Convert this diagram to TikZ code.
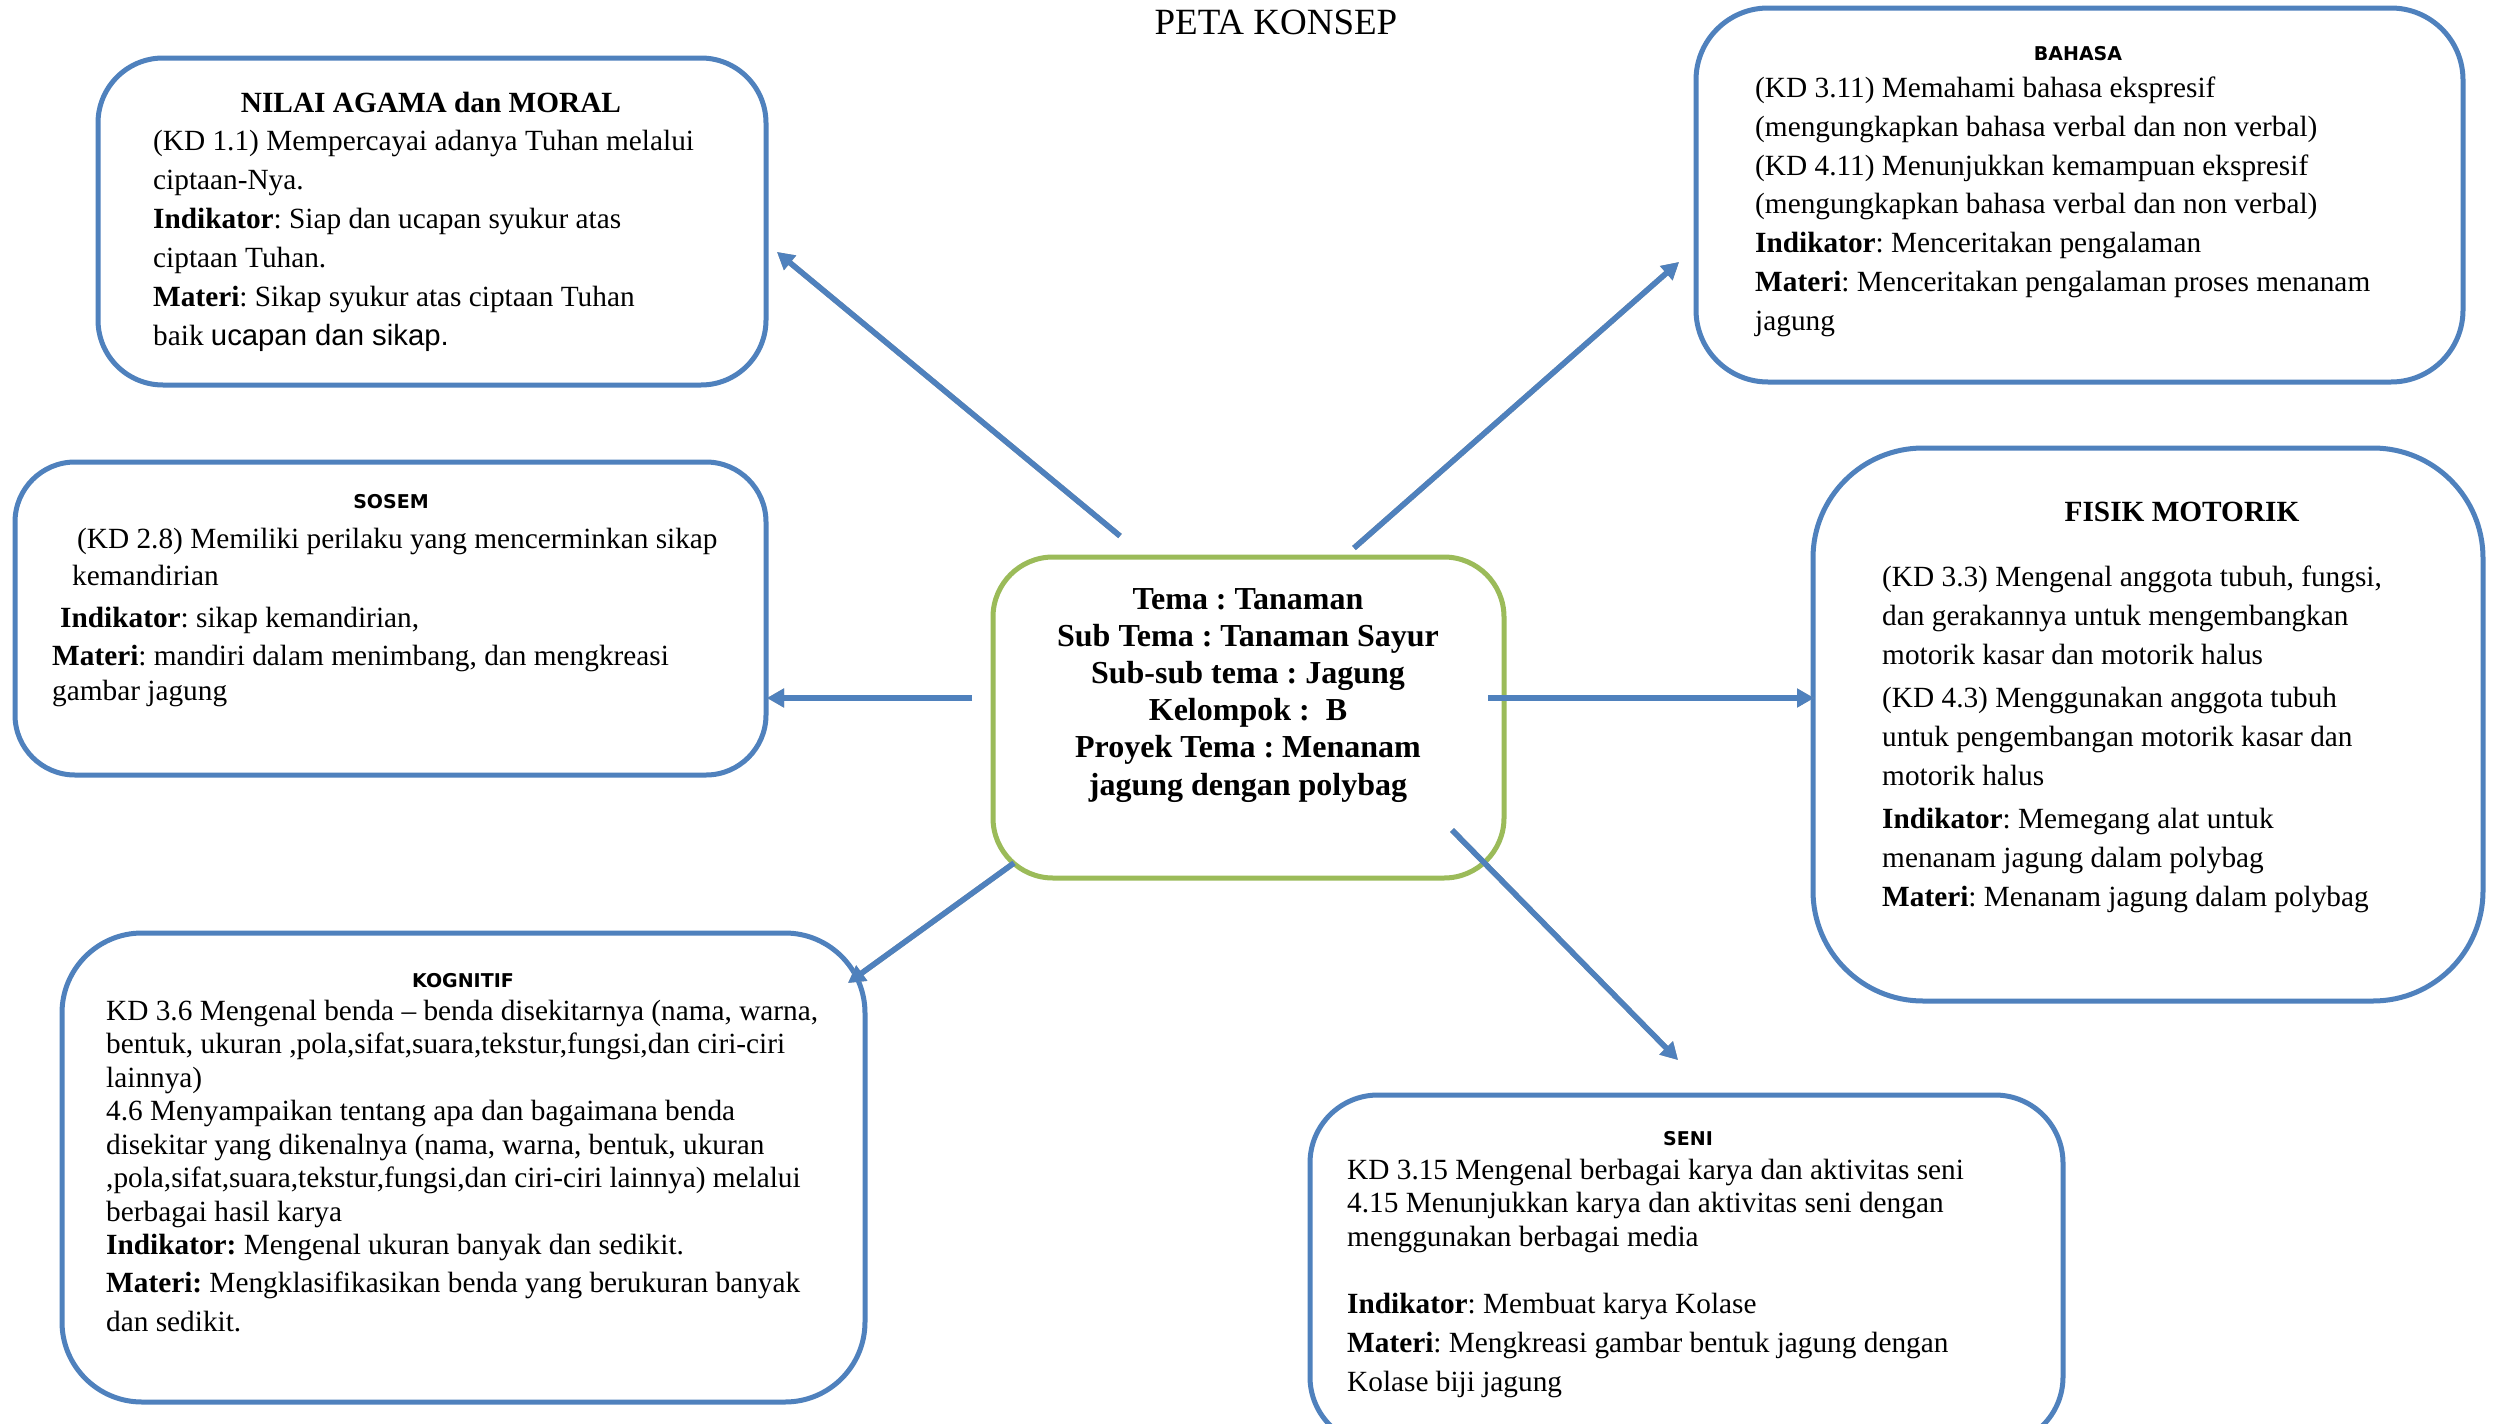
\documentclass[tikz,border=0pt]{standalone}
\usepackage{fontspec}
\setmainfont{Liberation Serif}
\newfontfamily\hdrfont{DejaVu Sans}
\newfontfamily\arialfont{Liberation Sans}
\usetikzlibrary{arrows.meta}
\definecolor{boxblue}{HTML}{4F81BD}
\definecolor{boxgreen}{HTML}{9BBB59}
\definecolor{shadowgray}{HTML}{9A9A9A}
\frenchspacing
\begin{document}
\begin{tikzpicture}[x=1pt,y=-1pt,
  bluebox/.style={draw=boxblue, line width=5pt, rounded corners=#1, fill=white, inner sep=0pt},
  greenbox/.style={draw=boxgreen, line width=5pt, rounded corners=#1, fill=white, inner sep=0pt},
  bodytxt/.style={anchor=base west, inner sep=0pt, align=left, font=\fontsize{29.3}{#1}\selectfont},
  hdr/.style={anchor=base, inner sep=0pt, font=\hdrfont\bfseries\fontsize{19}{23}\selectfont},
  sertitle/.style={anchor=base, inner sep=0pt, font=\bfseries\fontsize{29.3}{35}\selectfont},
  arr/.style={draw=boxblue, line width=5.5pt, -{Triangle[length=17pt,width=18pt]}},
  arrshadow/.style={draw=shadowgray, line width=5.5pt, -{Triangle[length=17pt,width=18pt]}, shift={(2,4)}}
]
\useasboundingbox (0,0) rectangle (2495,1424);
\fill[white] (0,0) rectangle (2495,1424);

% title
\node[anchor=base, inner sep=0pt, font=\fontsize{37}{44}\selectfont] (title) at (1276,34) {PETA KONSEP};

% boxes
\node[bluebox=65pt, minimum width=668pt, minimum height=327pt] (nilai) at (432,221.5) {};
\node[bluebox=72pt, minimum width=767pt, minimum height=374pt] (bahasa) at (2079.5,195) {};
\node[bluebox=60pt, minimum width=751pt, minimum height=313pt] (sosem) at (390.5,618.5) {};
\node[bluebox=110pt, minimum width=670pt, minimum height=553pt] (fisik) at (2148,724.5) {};
\node[bluebox=80pt, minimum width=803pt, minimum height=469pt] (kognitif) at (463.5,1167.5) {};
\node[bluebox=68pt, minimum width=753pt, minimum height=350pt] (seni) at (1686.5,1270) {};
\node[greenbox=60pt, minimum width=511pt, minimum height=321pt] (tema) at (1248.5,717.5) {};

% NILAI AGAMA (node base = baseline of last line)
\node[sertitle] (nilaiHead) at (431,112) {NILAI AGAMA dan MORAL};
\node[bodytxt=39pt] (nilaiText) at (153,345) {(KD 1.1) Mempercayai adanya Tuhan melalui\\
ciptaan-Nya.\\
\textbf{Indikator}: Siap dan ucapan syukur atas\\
ciptaan Tuhan.\\
\textbf{Materi}: Sikap syukur atas ciptaan Tuhan\\
baik {\arialfont ucapan dan sikap.}};

% BAHASA
\node[hdr] (bahasaHead) at (2078,60) {BAHASA};
\node[bodytxt=38.7pt] (bahasaText) at (1755,330) {(KD 3.11) Memahami bahasa ekspresif\\
(mengungkapkan bahasa verbal dan non verbal)\\
(KD 4.11) Menunjukkan kemampuan ekspresif\\
(mengungkapkan bahasa verbal dan non verbal)\\
\textbf{Indikator}: Menceritakan pengalaman\\
\textbf{Materi}: Menceritakan pengalaman proses menanam\\
jagung};

% SOSEM
\node[hdr] (sosemHead) at (391,508) {SOSEM};
\node[bodytxt=38pt] (sosemText) at (52,700) {\hspace*{25pt}(KD 2.8) Memiliki perilaku yang mencerminkan sikap\\[-1pt]
\hspace*{20pt}kemandirian\\[4pt]
\hspace*{8pt}\textbf{Indikator}: sikap kemandirian,\\
\textbf{Materi}: mandiri dalam menimbang, dan mengkreasi\\[-3pt]
gambar jagung};

% FISIK MOTORIK
\node[sertitle] (fisikHead) at (2182,521) {FISIK MOTORIK};
\node[bodytxt=39pt] (fisikText) at (1882,906) {(KD 3.3) Mengenal anggota tubuh, fungsi,\\
dan gerakannya untuk mengembangkan\\
motorik kasar dan motorik halus\\[4pt]
(KD 4.3) Menggunakan anggota tubuh\\
untuk pengembangan motorik kasar dan\\
motorik halus\\[4pt]
\textbf{Indikator}: Memegang alat untuk\\
menanam jagung dalam polybag\\
\textbf{Materi}: Menanam jagung dalam polybag};

% KOGNITIF
\node[hdr] (kognitifHead) at (463,987) {KOGNITIF};
\node[bodytxt=33.5pt] (kognitifText) at (106,1331.5) {KD 3.6 Mengenal benda -- benda disekitarnya (nama, warna,\\
bentuk, ukuran ,pola,sifat,suara,tekstur,fungsi,dan ciri-ciri\\
lainnya)\\
4.6 Menyampaikan tentang apa dan bagaimana benda\\
disekitar yang dikenalnya (nama, warna, bentuk, ukuran\\
,pola,sifat,suara,tekstur,fungsi,dan ciri-ciri lainnya) melalui\\
berbagai hasil karya\\
\textbf{Indikator:} Mengenal ukuran banyak dan sedikit.\\[4.5pt]
\textbf{Materi:} Mengklasifikasikan benda yang berukuran banyak\\[5.5pt]
dan sedikit.};

% SENI
\node[hdr] (seniHead) at (1688,1145) {SENI};
\node[bodytxt=33.5pt] (seniText) at (1347,1391) {KD 3.15 Mengenal berbagai karya dan aktivitas seni\\
4.15 Menunjukkan karya dan aktivitas seni dengan\\
menggunakan berbagai media\\[33.5pt]
\textbf{Indikator}: Membuat karya Kolase\\[6pt]
\textbf{Materi}: Mengkreasi gambar bentuk jagung dengan\\[5pt]
Kolase biji jagung};

% centre
\node[anchor=base, inner sep=0pt, align=center, font=\bfseries\fontsize{32}{37.2}\selectfont] (temaText) at (1248,795) {Tema : Tanaman\\
Sub Tema : Tanaman Sayur\\
Sub-sub tema : Jagung\\
Kelompok :\ \ B\\
Proyek Tema : Menanam\\
jagung dengan polybag};

% arrow end points
\coordinate (nilaiS) at (1120,536);
\coordinate (nilaiE) at (777,252);
\coordinate (bahasaS) at (1354,548);
\coordinate (bahasaE) at (1679,262);
\coordinate (sosemS) at (972,698);
\coordinate (sosemE) at (767,698);
\coordinate (fisikS) at (1488,698);
\coordinate (fisikE) at (1814,698);
\coordinate (kognitifS) at (1014,863);
\coordinate (kognitifE) at (848,983);
\coordinate (seniS) at (1452,830);
\coordinate (seniE) at (1678,1060);

\foreach \n in {nilai,bahasa,sosem,fisik,kognitif,seni}{
  \draw[arrshadow] (\n S) -- (\n E);
  \draw[arr] (\n S) -- (\n E);
}
\end{tikzpicture}
\end{document}
